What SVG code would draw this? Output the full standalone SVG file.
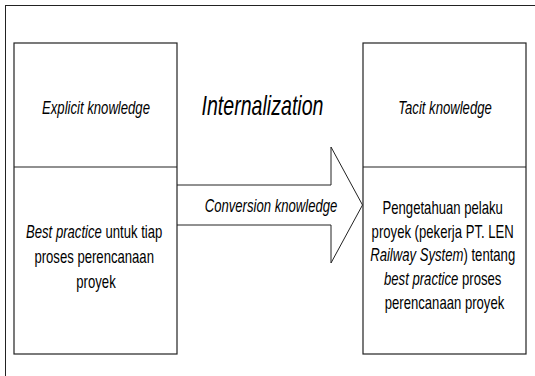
<svg xmlns="http://www.w3.org/2000/svg" width="535" height="376" viewBox="0 0 535 376">
  <style>
    .frame { fill: none; stroke: #222; stroke-width: 1; }
    .box { fill: #fff; stroke: #222; stroke-width: 1.2; }
    .div { stroke: #222; stroke-width: 1.2; }
    .arrow { fill: #fff; stroke: #222; stroke-width: 1; stroke-linejoin: miter; }
    text { font-family: "Liberation Sans", Arial, sans-serif; fill: #000; text-anchor: middle; }
    .lbl { font-size: 17.5px; }
    .big { font-size: 28px; }
    .it { font-style: italic; }
  </style>
  <rect width="535" height="376" fill="#fff"/>

  <!-- outer frame -->
  <rect class="frame" x="5.5" y="5.5" width="540" height="380"/>

  <!-- connectors -->
  <g id="connectors">
    <path id="conversion-arrow" class="arrow" d="M177,185 H331 V147 L362.5,205 L331,263 V225 H177"/>
    <text class="lbl it" transform="translate(271,211.5) scale(0.75,1)">Conversion knowledge</text>
  </g>

  <g id="process-label">
    <text class="big it" transform="translate(262.5,115) scale(0.7,1)">Internalization</text>
  </g>

  <!-- left: explicit knowledge -->
  <g id="explicit-knowledge">
    <rect class="box" x="14" y="43" width="163" height="311"/>
    <line class="div" x1="14" y1="167" x2="177" y2="167"/>
    <text class="lbl it" transform="translate(96,114) scale(0.75,1)">Explicit knowledge</text>
    <text class="lbl" transform="translate(96,238) scale(0.75,1)">
      <tspan x="0"><tspan class="it">Best practice</tspan> untuk tiap</tspan>
      <tspan x="0" dy="25">proses perencanaan</tspan>
      <tspan x="0" dy="25">proyek</tspan>
    </text>
  </g>

  <!-- right: tacit knowledge -->
  <g id="tacit-knowledge">
    <rect class="box" x="363" y="43" width="163" height="311"/>
    <line class="div" x1="363" y1="167" x2="526" y2="167"/>
    <text class="lbl it" transform="translate(445,114) scale(0.75,1)">Tacit knowledge</text>
    <text class="lbl" transform="translate(444.5,214) scale(0.75,1)">
      <tspan x="0">Pengetahuan pelaku</tspan>
      <tspan x="0" dy="23.7">proyek (pekerja PT. LEN</tspan>
      <tspan x="0" dy="23.7"><tspan class="it">Railway System</tspan>) tentang</tspan>
      <tspan x="0" dy="23.7"><tspan class="it">best practice</tspan> proses</tspan>
      <tspan x="0" dy="23.7">perencanaan proyek</tspan>
    </text>
  </g>
</svg>
